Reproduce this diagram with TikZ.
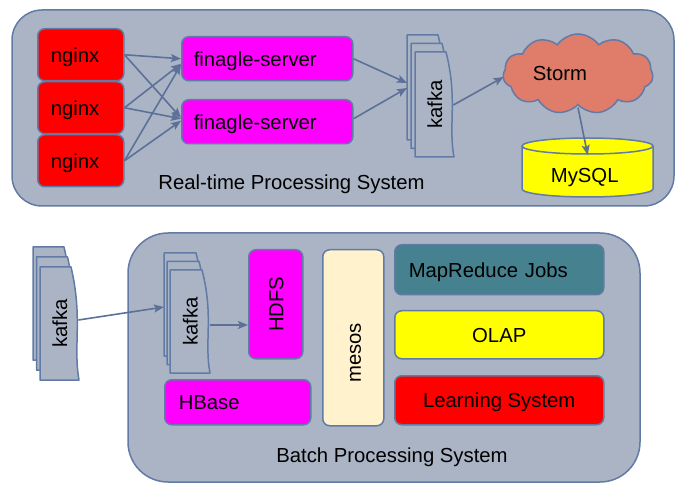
\documentclass[tikz,border=0pt]{standalone}
\usepackage{fontspec}
\setmainfont{Liberation Sans}
\usetikzlibrary{arrows.meta,shapes.symbols,calc}
\definecolor{cont}{RGB}{170,180,196}
\definecolor{bd}{RGB}{98,122,166}
\definecolor{ac}{RGB}{92,112,152}
\definecolor{mrteal}{RGB}{69,129,142}
\definecolor{cream}{RGB}{255,242,204}
\definecolor{stormc}{RGB}{224,124,106}
\definecolor{magf}{RGB}{255,0,255}
\definecolor{yelf}{RGB}{255,255,0}
\definecolor{redf}{RGB}{255,0,0}
\newcommand{\dfont}{\fontsize{20.3pt}{24pt}\selectfont}
\newcommand{\kpage}[4]{%
  \filldraw[fill=cont, draw=bd, line width=1.5pt, line join=round]
    ({#1},{#2}) -- ({#1+#3-8},{#2})
    .. controls ({#1+#3+4},{#2+0.45*#4}) and ({#1+#3-6},{#2+0.7*#4}) .. ({#1+#3},{#2+#4})
    -- ({#1},{#2+#4}) -- cycle;}
\newcommand{\kstack}[7]{%
  \kpage{#2-2*#6}{#3-2*#7}{#4}{#5}
  \kpage{#2-#6}{#3-#7}{#4}{#5}
  \kpage{#2}{#3}{#4}{#5}
  \node[draw=none, inner sep=0pt, minimum width=#4pt, minimum height=#5pt, anchor=north west] (#1) at (#2,#3) {};
  \node[rotate=90, lbl] at (#1.center) {kafka};}
\tikzset{
  cont/.style={fill=cont, draw=bd, line width=1.5pt},
  lbl/.style={font=\dfont, text height=15pt, text depth=0pt},
  box/.style={draw=bd, line width=1.5pt, rounded corners=7pt, inner sep=0pt, lbl, anchor=north west},
  leftbox/.style={box, align=left},
  arr/.style={draw=ac, line width=1.6pt, -{Stealth[length=10pt,width=8pt,inset=2pt]}}
}
\begin{document}
\begin{tikzpicture}[x=1pt,y=-1pt]
\useasboundingbox (0,0) rectangle (688,494);
% containers
\draw[cont, rounded corners=30pt] (12,10) rectangle (674,206);
\draw[cont, rounded corners=40pt] (128,233) rectangle (640,482);
\node[lbl] (rtl) at (291.5,182) {Real-time Processing System};
\node[lbl] (bpl) at (392,455) {Batch Processing System};
% nginx
\node[leftbox, fill=redf, minimum height=52pt, text width=60pt, inner xsep=13pt] (n1) at (37,28) {nginx};
\node[leftbox, fill=redf, minimum height=52pt, text width=60pt, inner xsep=13pt] (n2) at (37,81) {nginx};
\node[leftbox, fill=redf, minimum height=52pt, text width=60pt, inner xsep=13pt] (n3) at (37,134) {nginx};
% finagle
\node[leftbox, fill=magf, minimum height=44pt, text width=147pt, inner xsep=12pt] (f1) at (181,36) {finagle-server};
\node[leftbox, fill=magf, minimum height=44pt, text width=147pt, inner xsep=12pt] (f2) at (181,99) {finagle-server};
% kafka stacks
\kstack{k1}{415}{52}{39}{105}{4}{8.5}
\kstack{k2}{40}{267}{39}{113}{3.5}{10}
\kstack{k3}{170}{270}{40}{103}{3}{8.5}
% storm
\node[cloud, cloud puffs=11, cloud puff arc=110, aspect=1.9, draw=bd, line width=1.5pt, fill=stormc,
      minimum width=150pt, minimum height=80pt, inner sep=0pt,
      label={[lbl, xshift=-18pt, yshift=1pt]center:Storm}] (storm) at (578,74) {};
% mysql
\node[draw=none, inner sep=0pt, minimum width=131pt, minimum height=59pt, anchor=north west] (mysql) at (522,138) {};
\filldraw[fill=yelf, draw=bd, line width=1.5pt]
  (mysql.north west) ++(0,8) -- ++(0,43)
  arc[start angle=180, end angle=360, x radius=65.5pt, y radius=8pt]
  -- ++(0,-43)
  arc[start angle=0, end angle=180, x radius=65.5pt, y radius=8pt] -- cycle;
\draw[draw=bd, line width=1.5pt] (mysql.north west) ++(0,8)
  arc[start angle=180, end angle=360, x radius=65.5pt, y radius=8pt];
\node[lbl] at ($(mysql.center)+(-3,7)$) {MySQL};
% batch boxes
\node[box, fill=magf, minimum width=54pt, minimum height=109pt,
      label={[lbl, rotate=90]center:HDFS}] (hdfs) at (248,249) {};
\node[leftbox, fill=magf, minimum height=45pt, text width=118pt, inner xsep=14pt] (hbase) at (164,379) {HBase};
\node[box, fill=cream, minimum width=61pt, minimum height=176pt] (mesos) at (322,249) {};
\node[lbl, rotate=90] at ($(mesos.center)+(0,15)$) {mesos};
\node[leftbox, fill=mrteal, minimum height=50pt, text width=181pt, inner xsep=14pt] (mr) at (394,244) {MapReduce Jobs};
\node[box, fill=yelf, minimum width=209pt, minimum height=48pt] (olap) at (394,310) {OLAP};
\node[box, fill=redf, minimum width=209pt, minimum height=49pt] (ls) at (394,375) {Learning System};
% arrows top
\draw[arr] (n1.east) -- (f1.west);
\draw[arr] (n1.east) -- ($(f2.west)+(0,-4)$);
\draw[arr] (n2.east) -- ($(f1.west)+(0,5)$);
\draw[arr] (n2.east) -- ($(f2.west)+(0,-3)$);
\draw[arr] (n3.east) -- ($(f1.west)+(0,6)$);
\draw[arr] (n3.east) -- ($(f2.west)+(0,-1)$);
\draw[arr] (f1.east) -- ($(k1.north west)+(-8,31)$);
\draw[arr] ($(f2.east)+(0,-3)$) -- ($(k1.north west)+(-8,36)$);
\draw[arr] ($(k1.north east)+(-1,53)$) -- ($(storm.west)+(1,3)$);
\draw[arr] ($(storm.south)+(0,2)$) -- ($(mysql.north)+(0,17)$);
% arrows bottom
\draw[arr] ($(k2.north east)+(-1,53)$) -- ($(k3.north west)+(-6,37)$);
\draw[arr] ($(k3.north east)+(0,55)$) -- ($(hdfs.north west)+(0,76)$);
\end{tikzpicture}
\end{document}
